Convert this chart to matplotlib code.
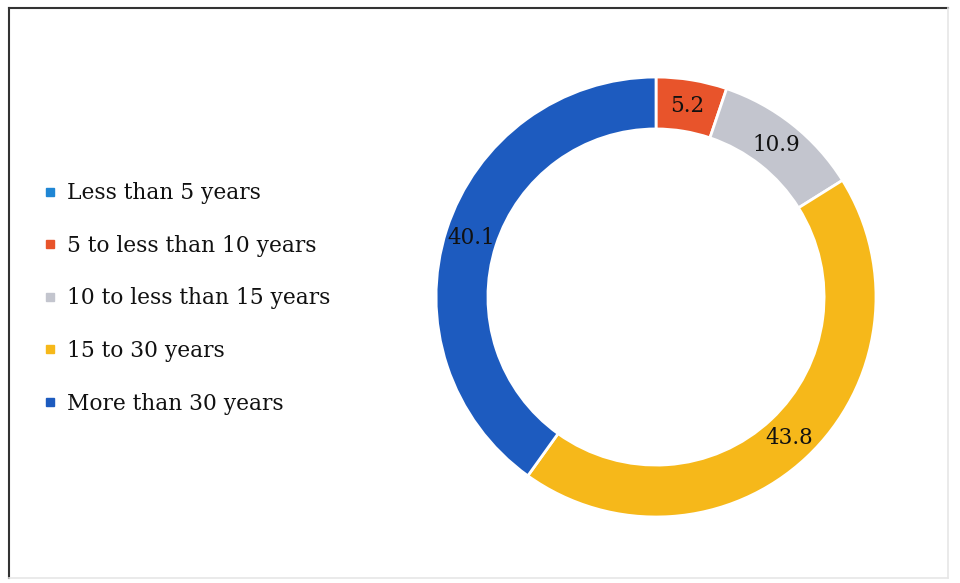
import matplotlib.pyplot as plt
from matplotlib.lines import Line2D

categories = ['Less than 5 years', '5 to less than 10 years',
              '10 to less than 15 years', '15 to 30 years', 'More than 30 years']
values = [0.0, 5.2, 10.9, 43.8, 40.1]
colors = ['#1f86d4', '#e8542b', '#c3c5ce', '#f6b81a', '#1d5bbf']

plt.rcParams['font.family'] = ['DejaVu Serif']

fig = plt.figure(figsize=(9.6, 5.83), dpi=100)
ax = fig.add_axes([0.4542, 0.1132, 0.4583, 0.7547])

def fmt(p):
        return '%.1f' % p if p > 0.05 else ''

wedges, texts, autotexts = ax.pie(values, colors=colors, startangle=90, counterclock=False,
                                  radius=1.0, autopct=fmt, pctdistance=0.882,
                                  wedgeprops=dict(width=0.236, edgecolor='white', linewidth=2))
for t in autotexts:
        t.set_fontsize(15.5)
        t.set_color('#111111')
ax.set_xlim(-1, 1)
ax.set_ylim(-1, 1)
ax.set_aspect('equal')
ax.axis('off')

handles = [Line2D([], [], linestyle='none', marker='s', markersize=6,
                  markerfacecolor=c, markeredgecolor=c) for c in colors]
fig.legend(handles, categories, loc='center left', bbox_to_anchor=(0.0451, 0.488),
           frameon=False, fontsize=15.7, handlelength=0.6, handletextpad=0.47,
           borderpad=0, borderaxespad=0, labelspacing=1.4, labelcolor='#111111')

# frame round the figure
W, H = 960.0, 583.0
fig.add_artist(Line2D([9 / W, 9 / W], [1 - 8 / H, 1 - 578 / H], color='#333333', lw=1.5))
fig.add_artist(Line2D([9 / W, 948 / W], [1 - 8 / H, 1 - 8 / H], color='#333333', lw=1.5))
fig.add_artist(Line2D([948 / W, 948 / W], [1 - 8 / H, 1 - 578 / H], color='#e6e6e6', lw=1.2))
fig.add_artist(Line2D([9 / W, 948 / W], [1 - 578 / H, 1 - 578 / H], color='#e6e6e6', lw=1.2))

plt.savefig('out.png', dpi=100)
plt.close()
